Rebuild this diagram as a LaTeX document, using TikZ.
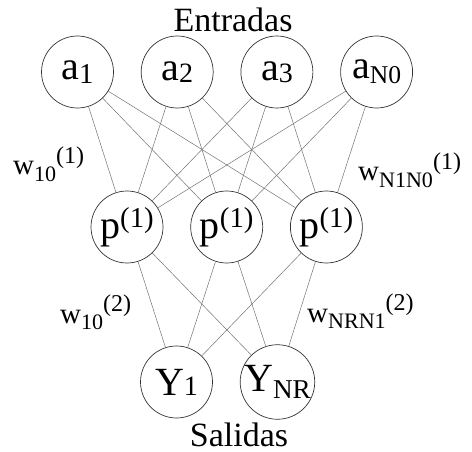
\documentclass[tikz,border=0pt]{standalone}
\usepackage{fontspec}
\setmainfont{Liberation Serif}
\usetikzlibrary{positioning}
\newcommand{\lowidx}[3]{\raisebox{-#1}{\scalebox{#2}{#3}}}
\newcommand{\highidx}[3]{\raisebox{#1}{\scalebox{#2}{#3}}}

\begin{document}
\begin{tikzpicture}[
  x=1pt, y=-1pt,
  node distance=27pt,
  neuron/.style={circle, draw=black!80, line width=0.7pt, minimum size=72pt, inner sep=0pt, font=\fontsize{40}{44}\selectfont},
  wlabel/.style={anchor=base west, inner sep=0pt, font=\fontsize{29}{32}\selectfont},
  title/.style={anchor=base, inner sep=0pt, font=\fontsize{34}{38}\selectfont},
  link/.style={draw=black!55, line width=0.5pt}
]
\useasboundingbox (0,0) rectangle (472,452);

% Inputs
\node[neuron] (a1) at (77.5,72) {a\lowidx{0.1em}{0.72}{1}};
\node[neuron, right=of a1] (a2) {a\lowidx{0.05em}{0.7}{2}};
\node[neuron, right=of a2] (a3) {a\lowidx{0.05em}{0.7}{3}};
\node[neuron, right=of a3] (aN) {a\lowidx{0.12em}{0.64}{N0}};

% Hidden layer
\node[neuron] (p1) at (127,227) {p\highidx{0.28em}{0.72}{(1)}};
\node[neuron, right=of p1] (p2) {p\highidx{0.28em}{0.72}{(1)}};
\node[neuron, right=of p2] (p3) {p\highidx{0.28em}{0.72}{(1)}};

% Outputs
\node[neuron] (y1) at (176.5,382) {Y\lowidx{0em}{0.7}{1}};
\node[neuron, right=of y1] (yN) {Y\lowidx{0.18em}{0.68}{NR}};

% Titles
\node[title] (tin) at (233,32) {Entradas};
\node[title] (tout) at (239,446) {Salidas};

% Weights
\node[wlabel] (w1a) at (13,175) {w\lowidx{0.24em}{0.76}{10}\highidx{0.38em}{0.83}{(1)}};
\node[wlabel] (w1b) at (358,181) {w\lowidx{0.24em}{0.76}{N1N0}\highidx{0.38em}{0.83}{(1)}};
\node[wlabel] (w2a) at (60,323) {w\lowidx{0.24em}{0.76}{10}\highidx{0.38em}{0.83}{(2)}};
\node[wlabel] (w2b) at (307,322) {w\lowidx{0.24em}{0.76}{NRN1}\highidx{0.38em}{0.83}{(2)}};

% Links
\draw[link] (a1) -- (p1) (a1) -- (p2) (a1) -- (p3);
\draw[link] (a2) -- (p1) (a2) -- (p2) (a2) -- (p3);
\draw[link] (a3) -- (p1) (a3) -- (p2) (a3) -- (p3);
\draw[link] (aN) -- (p1) (aN) -- (p2) (aN) -- (p3);
\draw[link] (p1) -- (y1) (p1) -- (yN);
\draw[link] (p2) -- (y1) (p2) -- (yN);
\draw[link] (p3) -- (y1) (p3) -- (yN);
\end{tikzpicture}
\end{document}
